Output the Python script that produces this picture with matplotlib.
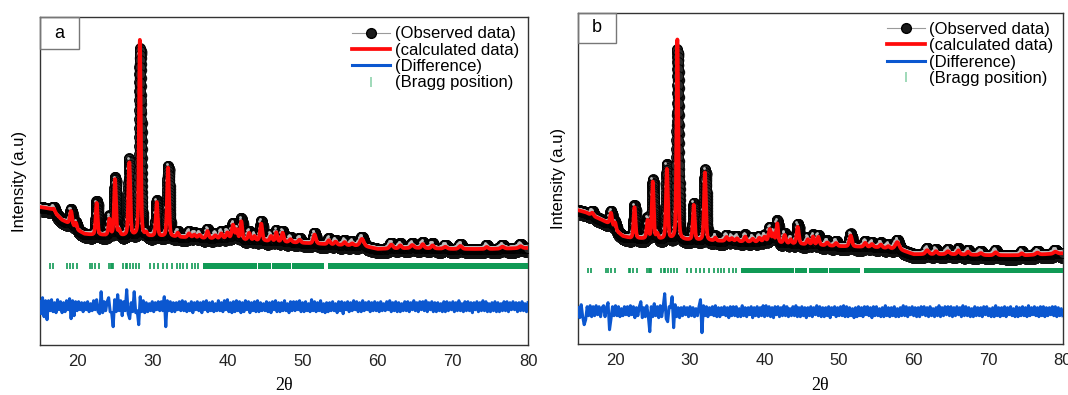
import numpy as np
import matplotlib
matplotlib.use("Agg")
import matplotlib.pyplot as plt
import matplotlib.transforms as mtransforms
from matplotlib.patches import Rectangle
from matplotlib.lines import Line2D

plt.rcParams["font.family"] = ["Liberation Sans", "DejaVu Sans"]

X_MIN, X_MAX = 15.0, 80.0
OBS_STEP = 0.01     # 2theta step of observed points
DIFF_STEP = 0.2     # 2theta step of the difference curve

RED = "#ff0a0a"
BLUE = "#0b57d0"
GREEN = "#109a55"

# ---- panel a --------------------------------------------------------------
bg_a_x = [15, 16.5, 18, 19, 20, 21, 22, 26, 33, 36, 40, 45, 50, 55, 58, 60, 65, 70, 75, 80]
bg_a_y = [138, 136, 125, 121, 115, 111, 110, 109, 108, 107, 106, 104, 102, 100, 99, 96, 97, 96, 96, 97]

peak_a_pos = [16.9, 19.2, 19.85, 22.6, 24.3, 25.05, 25.6, 26.95, 28.35, 29.2, 30.6, 32.1,
              33.4, 34.9, 35.6, 36.3, 37.35, 38.4, 39.2, 40.0, 40.75, 41.25, 41.85, 42.9,
              43.6, 44.5, 45.8, 46.5, 47.35, 48.4, 49.6, 51.6, 53.5, 54.4, 55.6, 56.6,
              57.9, 61.8, 63.0, 64.6, 66.0, 67.3, 69.0, 71.0, 74.5, 76.6, 79.0]
peak_a_calc = [3, 14, 6, 32, 16, 56, 5, 73, 196, 3, 34, 69,
               4, 4, 3, 3, 7, 3, 5, 6, 14, 9, 18, 7,
               4, 17, 5, 9, 9, 3, 3, 9, 4, 3, 3, 2,
               7, 4, 3, 3, 4, 3, 2, 3, 2, 2, 2]
peak_a_obs = [5, 16, 7, 34, 19, 58, 6, 77, 188, 4, 36, 71,
              6, 6, 5, 5, 9, 5, 7, 8, 16, 11, 21, 9,
              6, 20, 7, 11, 11, 5, 5, 11, 6, 5, 5, 4,
              9, 6, 5, 5, 6, 5, 4, 5, 4, 4, 4]
peak_a_fwhm = [0.4, 0.35, 0.3, 0.3, 0.3, 0.3, 0.3, 0.3, 0.27, 0.3, 0.3, 0.3,
               0.3, 0.4, 0.4, 0.4, 0.35, 0.4, 0.4, 0.4, 0.4, 0.3, 0.3, 0.35,
               0.3, 0.35, 0.35, 0.3, 0.35, 0.4, 0.4, 0.4, 0.4, 0.4, 0.4, 0.4,
               0.6, 0.5, 0.4, 0.5, 0.4, 0.4, 0.5, 0.5, 0.4, 0.5, 0.5]

diff_a = [5, -7, 9, -10, 6, -13, 6, -4, 7, -5, 4, -6, 7, -3, 5, -6, 4, -5, 6, -3,
          8, -12, 6, -9, 5, -4, 5, -3, 4, -5, 4, -3, 5, -5, 3, -4, 6, -3, 7, -5,
          -7, 15, -6, 5, -4, 5, 9, -5, -6, -20, 7, -5, 12, -4, 6, -9, 5, -4, 17, -7,
          -12, 4, -5, 15, -6, -4, -18, 10, -5, 6, -6, 4, -5, 3, -4, 5, -5, 4, -3, 5,
          -4, 5, -4, 10, -20, 6, -4, 5, -5, 4, -5, 4, -3, 5, -4, 6, -4, 5, -5, 3,
          -4, 5, -6, 4, -3, 5, -4, 4, -6, 5, -3, 6, -5, 4, -4, 5, -5, 3, -4, 6,
          -4, 4, -5, 6, -3, 7, -5, 4, -6, 5, -5, 6, -4, 5, -6, 4, -5, 6, -3, 5,
          -6, 4, -4, 5, -5, 6, -5, 4, -4, 3, -4, 5, -5, 4, -6, 5, -3, 6, -5, 4,
          -5, 4, -4, 6, -4, 3, -6, 5, -4, 5, -4, 5, -3, 6, -5, 4, -5, 5, -4, 3,
          -5, 7, -4, 5, -5, 4, -4, 6, -5, 3, -6, 4, -5, 4, -4, 5, -4, 3, -6, 5,
          -4, 5, -7, 4, -3, 5, -5, 4, -4, 6, -3, 5, -5, 4, -5, 6, -4, 4, -3, 5,
          -5, 4, -4, 5, -4, 4, -5, 5, -4, 3, -4, 5, -3, 6, -5, 4, -4, 5, -5, 4,
          -5, 3, -4, 5, -4, 5, -5, 4, -3, 6, -4, 4, -5, 5, -3, 5, -4, 6, -5, 4,
          -3, 5, -5, 4, -5, 4, -4, 3, -5, 5, -5, 5, -4, 4, -3, 5, -5, 4, -4, 6,
          -4, 3, -5, 5, -4, 5, -4, 4, -6, 4, -3, 5, -5, 4, -4, 6, -4, 5, -5, 3,
          -5, 4, -4, 5, -5, 4, -5, 3, -4, 5, -4, 5, -5, 4, -3, 5, -3, 4, -5, 4,
          -4, 5, -4, 3, -5, 4]

# ---- panel b --------------------------------------------------------------
bg_b_x = [15, 16, 17, 18, 19, 20, 21, 22, 25, 30, 35, 40, 45, 50, 55, 58, 60, 65, 70, 75, 80]
bg_b_y = [134, 132, 128, 125, 121, 114, 108, 106, 105, 104, 103, 102, 100, 98, 97, 95, 90, 90, 89, 89, 91]

peak_b_pos = [16.9, 19.4, 19.95, 22.55, 24.3, 25.0, 25.6, 26.9, 28.3, 30.5, 32.0,
              33.4, 34.9, 35.6, 36.3, 37.4, 38.4, 39.3, 40.0, 40.7, 41.2, 41.7, 42.7,
              43.5, 44.45, 45.8, 46.5, 47.2, 48.4, 49.6, 51.55, 53.5, 54.4, 55.6, 56.6,
              57.8, 61.8, 63.0, 64.6, 66.0, 67.3, 69.0, 71.0, 74.5, 76.6, 79.0]
peak_b_calc = [3, 13, 7, 31, 18, 57, 5, 70, 200, 35, 68,
               3, 4, 3, 3, 5, 3, 4, 5, 13, 8, 19, 8,
               4, 17, 5, 8, 8, 3, 3, 11, 4, 3, 3, 2,
               7, 4, 3, 3, 4, 3, 2, 3, 2, 2, 2]
peak_b_obs = [5, 15, 8, 33, 21, 59, 6, 75, 190, 37, 71,
              5, 6, 5, 5, 7, 5, 6, 7, 15, 10, 22, 10,
              6, 20, 7, 10, 10, 5, 5, 13, 6, 5, 5, 4,
              9, 6, 5, 5, 6, 5, 4, 5, 4, 4, 4]
peak_b_fwhm = [0.4, 0.35, 0.3, 0.3, 0.3, 0.3, 0.3, 0.3, 0.27, 0.3, 0.3,
               0.3, 0.4, 0.4, 0.4, 0.35, 0.4, 0.4, 0.4, 0.4, 0.3, 0.3, 0.35,
               0.3, 0.35, 0.35, 0.3, 0.35, 0.4, 0.4, 0.4, 0.4, 0.4, 0.4, 0.4,
               0.6, 0.5, 0.4, 0.5, 0.4, 0.4, 0.5, 0.5, 0.4, 0.5, 0.5]

diff_b = [4, -6, 7, -5, -13, -8, 5, -4, 6, -5, 5, -4, 6, -3, 5, -5, 4, 6, -5, 4,
          9, -18, -7, 5, -4, 6, -4, 5, -5, 3, -4, 5, -3, 5, -4, 6, -3, 5, -6, 4,
          -4, 5, 10, -6, 4, -5, 6, -4, -20, 5, -5, 8, -4, 5, -6, 6, -5, 5, 18, -7,
          -10, 5, 4, 15, -16, 7, -5, 4, -6, 4, -4, 5, -3, 4, -5, 5, -4, 4, -5, 3,
          -4, 5, 12, -21, 6, -4, 5, -5, 4, -3, 5, -4, 6, -5, 4, -5, 4, -3, 5, -4,
          4, -6, 5, -4, 5, -4, 5, -5, 3, -5, 6, -4, 4, -5, 4, -3, 5, -6, 4, -4,
          5, -5, 4, -4, 6, -5, 6, -4, 5, -5, 4, -6, 5, -3, 5, -5, 4, -4, 6, -4,
          5, -5, 3, -4, 5, -4, 6, -5, 4, -5, 5, -4, 4, -6, 4, -4, 5, -5, 4, -3,
          6, -4, 5, -5, 4, -5, 4, -4, 5, -6, 4, -3, 5, -5, 4, -4, 5, -4, 6, -5,
          5, -5, 4, -4, 3, -6, 4, -5, 5, -4, 4, -5, 5, -3, 5, -4, 4, -6, 5, -4,
          5, -4, 3, -5, 4, -5, 6, -4, 4, -5, 4, -4, 5, -5, 3, -5, 4, -4, 6, -4,
          5, -5, 4, -3, 5, -4, 4, -5, 4, -5, 5, -3, 5, -4, 4, -5, 5, -4, 3, -5,
          4, -4, 6, -5, 4, -4, 5, -3, 5, -4, 5, -5, 4, -4, 5, -3, 4, -5, 6, -4,
          5, -4, 4, -5, 3, -5, 5, -4, 4, -4, 4, -5, 5, -3, 5, -4, 3, -5, 4, -5,
          6, -4, 4, -5, 4, -4, 5, -5, 4, -3, 5, -4, 3, -5, 5, -5, 4, -4, 5, -4,
          4, -5, 6, -4, 4, -3, 5, -4, 4, -5, 5, -4, 5, -5, 4, -4, 4, -3, 5, -4,
          5, -5, 4, -4, 3, -4]

# ---- Bragg reflections (same phase in both panels) ------------------------
bragg_pos = [16.34, 16.74, 18.7, 19.0, 19.4, 19.99, 21.75, 22.0, 22.38, 22.9,
             24.2, 24.45, 24.6, 24.75, 26.06, 26.45, 26.7, 27.07, 27.43, 27.87, 28.3,
             29.64, 30.17, 30.83, 31.4, 31.93, 32.6, 33.27, 33.7, 34.15, 34.6,
             35.26, 35.7, 36.15]
bragg_band_start = [36.8, 44.05, 45.9, 48.6, 53.35]
bragg_band_end = [43.95, 45.75, 48.45, 52.8, 80.0]

legend_labels = ["(Observed data)", "(calculated data)", "(Difference)", "(Bragg position)"]


def profile(x, bg_x, bg_y, pos, height, fwhm):
    # pseudo-Voigt peaks on top of a linearly interpolated background
    y = np.interp(x, bg_x, bg_y)
    for p, h, w in zip(pos, height, fwhm):
        u = (x - p) / w
        y = y + h * (0.65 * np.exp(-4 * np.log(2) * u ** 2) + 0.35 / (1 + 4 * u ** 2))
    return y


def draw_panel(fig, rect, letter, box, ylim_top, bg, peaks, diff, diff_base, tick_y):
    ax = fig.add_axes(rect)
    bg_x, bg_y = bg
    pos, calc_h, obs_h, fwhm = peaks

    x_obs = np.arange(X_MIN, X_MAX + 1e-9, OBS_STEP)
    y_obs = profile(x_obs, bg_x, bg_y, pos, obs_h, fwhm)
    y_calc = profile(x_obs, bg_x, bg_y, pos, calc_h, fwhm)

    shadow = mtransforms.offset_copy(ax.transData, fig=fig, x=0.6, y=-2.4, units="points")
    shine = mtransforms.offset_copy(ax.transData, fig=fig, x=-1.0, y=1.3, units="points")
    ax.plot(x_obs, y_obs, "o", ms=7.2, color="#101010", transform=shadow, zorder=2)
    ax.plot(x_obs, y_obs, "o", ms=7.2, mfc="#2a2a2a", mec="black", mew=0.6, zorder=3)
    ax.plot(x_obs[::9], y_obs[::9], "o", ms=2.0, color="#bdbdbd", mew=0,
            transform=shine, zorder=4)
    ax.plot(x_obs, y_calc, color=RED, lw=2.7, zorder=5)

    x_diff = X_MIN + DIFF_STEP * np.arange(len(diff))
    ax.plot(x_diff, diff_base + np.array(diff), color=BLUE, lw=2.2, zorder=5)

    ax.vlines(bragg_pos, tick_y[0], tick_y[1], color=GREEN, lw=1.2, zorder=4)
    ax.broken_barh([(s, e - s) for s, e in zip(bragg_band_start, bragg_band_end)],
                   (tick_y[0], tick_y[1] - tick_y[0]), facecolors=GREEN, zorder=4)

    ax.set_xlim(X_MIN, X_MAX)
    ax.set_ylim(0, ylim_top)
    ax.set_xticks([20, 30, 40, 50, 60, 70, 80])
    ax.set_yticks([])
    ax.tick_params(axis="x", length=0, pad=6.5, labelsize=12, colors="#222222")
    for s in ax.spines.values():
        s.set_linewidth(1.0)
        s.set_color("#333333")
    ax.set_ylabel("Intensity (a.u)", fontsize=12, labelpad=9)
    ax.set_xlabel("2θ", fontsize=13, family=["Liberation Serif", "DejaVu Serif"], labelpad=6)

    ax.add_patch(Rectangle((0, 1 - box[1]), box[0], box[1], transform=ax.transAxes,
                           fill=False, ec="#777777", lw=1.0, zorder=6, clip_on=False))
    ax.text(box[0] / 2, 1 - box[1] / 2, letter, transform=ax.transAxes,
            ha="center", va="center", fontsize=13, zorder=7)

    handles = [
        Line2D([], [], color="#9a9a9a", lw=0.8, marker="o", ms=7,
               mfc="#1a1a1a", mec="black"),
        Line2D([], [], color=RED, lw=2.7),
        Line2D([], [], color=BLUE, lw=2.2),
        Line2D([], [], color="#8fd3ad", marker="|", ms=7, mew=1.2, ls="none"),
    ]
    ax.legend(handles, legend_labels, loc="upper right", frameon=False, fontsize=12,
              labelspacing=0.08, handlelength=2.3, handletextpad=0.25,
              borderaxespad=0.2, borderpad=0.35)
    return ax


fig = plt.figure(figsize=(10.68, 3.95), dpi=100)

draw_panel(fig, [0.037, 0.1266, 0.4574, 0.8296], "a", (0.08, 0.097), 327.7,
           (bg_a_x, bg_a_y), (peak_a_pos, peak_a_calc, peak_a_obs, peak_a_fwhm),
           diff_a, 38.3, (75.7, 81.7))
draw_panel(fig, [0.5414, 0.1284, 0.4537, 0.8395], "b", (0.077, 0.092), 331.6,
           (bg_b_x, bg_b_y), (peak_b_pos, peak_b_calc, peak_b_obs, peak_b_fwhm),
           diff_b, 32.6, (71.0, 76.6))

fig.savefig("out.png", dpi=100)
